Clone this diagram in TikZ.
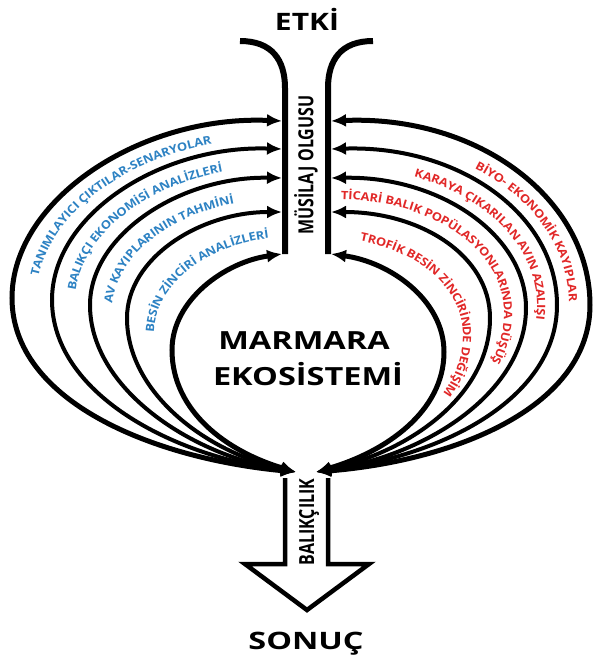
\documentclass[tikz,border=0pt]{standalone}
\usepackage{fontspec}
\setmainfont{Open Sans}
\newfontfamily\lblfont{Open Sans}[FakeStretch=1.12]
\usetikzlibrary{arrows.meta,decorations.text}
\definecolor{tblue}{RGB}{45,130,195}
\definecolor{tred}{RGB}{225,40,40}
\newcommand\bluelbl{\lblfont\fontsize{11.5}{13}\selectfont\bfseries\color{tblue}}
\newcommand\redlbl{\lblfont\fontsize{11.5}{13}\selectfont\bfseries\color{tred}}
\begin{document}
\begin{tikzpicture}[x=1pt,y=-1pt,
  curve/.style={line width=4pt,{Latex[length=15pt,width=13pt]}-{Latex[length=15pt,width=13pt]}},
  outercurve/.style={curve,line width=5pt},
  funnel/.style={line width=6pt},
  bigarrow/.style={line width=4.5pt,miter limit=10},
  bigtitle/.style={font=\fontsize{24}{28}\selectfont\bfseries},
  midtitle/.style={font=\fontsize{25}{28}\selectfont\bfseries},
  vert/.style={rotate=90,font=\fontsize{16}{18}\selectfont\bfseries},
  lbl/.style={decorate,decoration={text along path,raise=-4pt,text align={left,left indent=#1}}}
]
\useasboundingbox (0,0) rectangle (593,665);

% titles
\node[bigtitle] (etki) at (307,19) {\scalebox{1.25}[1]{ETKİ}};
\node[bigtitle] (sonuc) at (306,644) {\scalebox{1.35}[1]{SONUÇ}};
\node[midtitle] (marmara) at (304,341) {\scalebox{1.3}[1]{MARMARA}};
\node[midtitle] (ekos) at (308,374) {\scalebox{1.3}[1]{EKOSİSTEMİ}};
\node[vert] (mus) at (306,165) {\scalebox{1}[1.3]{MÜSİLAJ OLGUSU}};
\node[vert] (bal) at (309,522) {\scalebox{1}[1.3]{BALIKÇILIK}};

% funnel lines
\coordinate (FLt) at (240,41);
\coordinate (FLb) at (285,254);
\coordinate (FRt) at (373,41);
\coordinate (FRb) at (328,254);
\draw[funnel] (FLt) .. controls (272,41) and (285,60) .. (285,88) -- (FLb);
\draw[funnel] (FRt) .. controls (341,41) and (328,60) .. (328,88) -- (FRb);

% big bottom arrow
\coordinate (SL) at (285,478);
\coordinate (SR) at (328,478);
\coordinate (TIP) at (307,610);
\draw[bigarrow] (SL) -- (285,564) -- (245,564) -- (TIP) -- (369,564) -- (328,564) -- (SR);

% convergence points
\coordinate (BL) at (296,472);
\coordinate (BR) at (316,472);

% left curves
\coordinate (E1) at (282,121);
\coordinate (E2) at (282,149);
\coordinate (E3) at (282,178);
\coordinate (E4) at (282,212);
\coordinate (E5) at (282,254);
\draw[outercurve] (BL) .. controls (150,458) and (12,400) .. (12,298) .. controls (12,200) and (140,115) .. (E1);
\draw[curve] (BL) .. controls (170,456) and (52,392) .. (52,300) .. controls (52,215) and (160,145) .. (E2);
\draw[curve] (BL) .. controls (190,455) and (90,388) .. (90,305) .. controls (90,235) and (180,176) .. (E3);
\draw[curve] (BL) .. controls (205,452) and (127,392) .. (127,318) .. controls (127,258) and (200,212) .. (E4);
\draw[outercurve] (BL) .. controls (228,452) and (172,412) .. (172,350) .. controls (172,300) and (225,262) .. (E5);

% right curves
\coordinate (F1) at (331,121);
\coordinate (F2) at (331,149);
\coordinate (F3) at (331,178);
\coordinate (F4) at (331,212);
\coordinate (F5) at (331,254);
\draw[outercurve] (BR) .. controls (460,460) and (590,405) .. (590,305) .. controls (590,200) and (480,115) .. (F1);
\draw[curve] (BR) .. controls (450,455) and (557,395) .. (557,305) .. controls (557,215) and (460,145) .. (F2);
\draw[curve] (BR) .. controls (430,455) and (526,390) .. (526,308) .. controls (526,235) and (440,176) .. (F3);
\draw[curve] (BR) .. controls (410,452) and (490,395) .. (490,318) .. controls (490,255) and (420,212) .. (F4);
\draw[outercurve] (BR) .. controls (385,452) and (444,412) .. (444,352) .. controls (444,300) and (390,262) .. (F5);

% left labels
\path[lbl=24pt,decoration={text={|\bluelbl|TANIMLAYICI ÇIKTILAR-SENARYOLAR}}]
  (32,299) .. controls (32,207) and (150,130) .. (282,135);
\path[lbl=12pt,decoration={text={|\bluelbl|BALIKÇI EKONOMİSİ ANALİZLERİ}}]
  (71,302) .. controls (71,225) and (170,160) .. (282,163);
\path[lbl=8pt,decoration={text={|\bluelbl|AV KAYIPLARININ TAHMİNİ}}]
  (108,311) .. controls (108,246) and (190,194) .. (282,195);
\path[lbl=2pt,decoration={text={|\bluelbl|BESİN ZİNCİRİ ANALİZLERİ}}]
  (150,334) .. controls (150,279) and (212,237) .. (282,233);

% right labels
\path[lbl=150pt,decoration={text={|\redlbl|BİYO- EKONOMİK KAYIPLAR}}]
  (331,135) .. controls (470,130) and (573,207) .. (573,305) .. controls (573,400) and (455,458) .. (316,472);
\path[lbl=85pt,decoration={text={|\redlbl|KARAYA ÇIKARILAN AVIN AZALIŞI}}]
  (331,163) .. controls (450,160) and (541,225) .. (541,306) .. controls (541,392) and (440,455) .. (316,472);
\path[lbl=10pt,decoration={text={|\redlbl|TİCARİ BALIK POPÜLASYONLARINDA DÜŞÜŞ}}]
  (331,195) .. controls (430,194) and (508,245) .. (508,313) .. controls (508,392) and (420,453) .. (316,472);
\path[lbl=30pt,decoration={text={|\redlbl|TROFİK BESİN ZİNCİRİNDE DEĞİŞİM}}]
  (331,233) .. controls (405,237) and (467,278) .. (467,335) .. controls (467,403) and (398,452) .. (316,472);
\end{tikzpicture}
\end{document}
